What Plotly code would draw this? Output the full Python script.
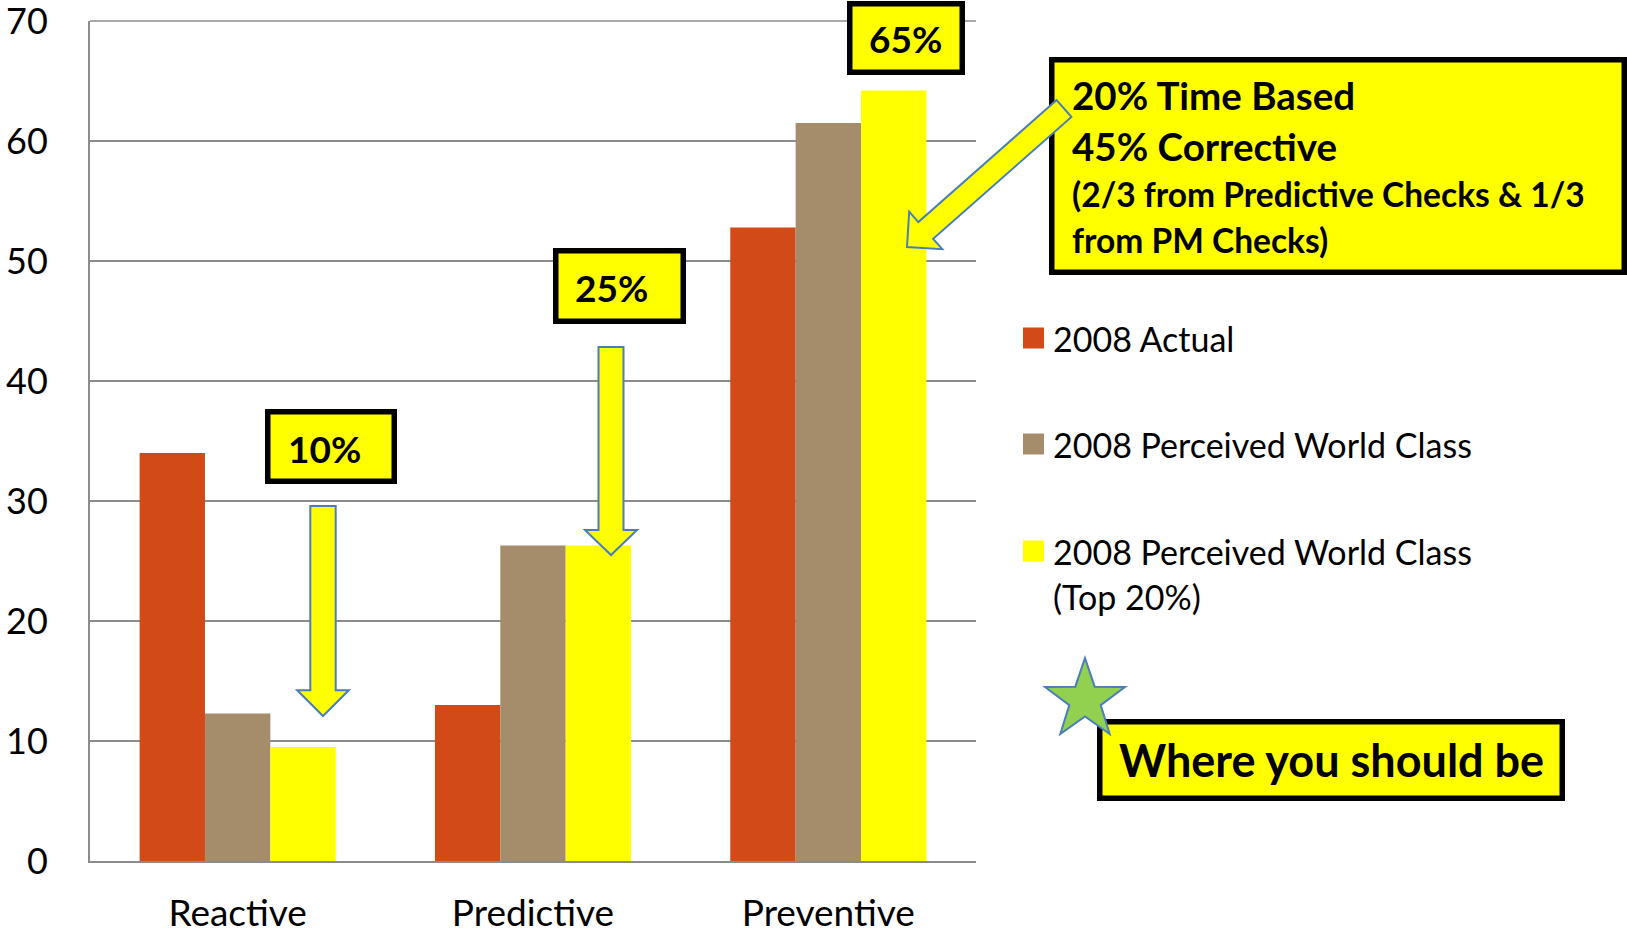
import math
import plotly.graph_objects as go

# ---- data -----------------------------------------------------------------
categories = ["Reactive", "Predictive", "Preventive"]
actual_2008 = [34.0, 13.0, 52.8]
world_class_2008 = [12.3, 26.3, 61.5]
world_class_top20 = [9.5, 26.3, 64.2]

series_names = [
    "2008 Actual",
    "2008 Perceived World Class",
    "2008 Perceived World Class<br>(Top 20%)",
]
series_colors = ["#D24A18", "#A58C6A", "#FFFF00"]

y_ticks = [0, 10, 20, 30, 40, 50, 60, 70]
target_labels = ["10%", "25%", "65%"]
split_lines = [
    "20% Time Based",
    "45% Corrective",
    "(2/3 from Predictive Checks & 1/3",
    "from PM Checks)",
]
callout_text = "Where you should be"

# ---- page geometry ----------------------------------------------------------
W, H = 1627, 937
ML, MR, MT, MB = 90, 651, 21, 76
PW, PH = W - ML - MR, H - MT - MB

FONT = "Lato"
YELLOW = "#FFFF00"
OUTLINE = "#4A7EBB"
GRID = "#8C8C8C"


def px(x, y):
    """Convert page pixel position to paper coordinates."""
    return (x - ML) / PW, (H - MB - y) / PH


def path_from(points):
    pts = [px(x, y) for x, y in points]
    return "M " + " L ".join(f"{a:.5f},{b:.5f}" for a, b in pts) + " Z"


def block_arrow(tail, tip, shaft_half, head_half, head_len):
    dx, dy = tip[0] - tail[0], tip[1] - tail[1]
    ln = math.hypot(dx, dy)
    ux, uy = dx / ln, dy / ln
    nx, ny = -uy, ux
    bx, by = tip[0] - ux * head_len, tip[1] - uy * head_len
    pts = [
        (tail[0] + nx * shaft_half, tail[1] + ny * shaft_half),
        (bx + nx * shaft_half, by + ny * shaft_half),
        (bx + nx * head_half, by + ny * head_half),
        tip,
        (bx - nx * head_half, by - ny * head_half),
        (bx - nx * shaft_half, by - ny * shaft_half),
        (tail[0] - nx * shaft_half, tail[1] - ny * shaft_half),
    ]
    return path_from(pts)


def star(cx, cy, r_out, r_in):
    pts = []
    for k in range(10):
        ang = math.radians(90 + 36 * k)
        r = r_out if k % 2 == 0 else r_in
        pts.append((cx + r * math.cos(ang), cy - r * math.sin(ang)))
    return path_from(pts)


def box(x0, y0, x1, y1, lw=5.5):
    # outer edges given; stroke is centred on the path
    h = lw / 2
    a0, b0 = px(x0 + h, y1 - h)
    a1, b1 = px(x1 - h, y0 + h)
    return dict(type="rect", xref="paper", yref="paper",
                x0=a0, y0=b0, x1=a1, y1=b1,
                fillcolor=YELLOW, line=dict(color="black", width=lw),
                layer="above")


def text(x, y, s, size, bold=True, xanchor="center"):
    a, b = px(x, y)
    return dict(xref="paper", yref="paper", x=a, y=b, text=s,
                showarrow=False, xanchor=xanchor, yanchor="middle",
                font=dict(family=FONT, size=size, color="black",
                          weight="bold" if bold else "normal"))


# ---- bars -------------------------------------------------------------------
fig = go.Figure()
for name, vals, col in zip(series_names, [actual_2008, world_class_2008, world_class_top20], series_colors):
    fig.add_trace(go.Bar(x=categories, y=vals, name=name.replace("<br>", " "),
                         marker=dict(color=col, line=dict(width=0)),
                         showlegend=False))

shapes = []
annotations = []

# top gridline (the axis range ends exactly on it)
shapes.append(dict(type="line", xref="paper", yref="paper", x0=0, x1=1, y0=1, y1=1,
                   line=dict(color=GRID, width=1.5), layer="below"))

# ---- legend (drawn beside the plot) ----------------------------------------
legend_rows = [338, 444, 551]
for name, col, yc in zip(series_names, series_colors, legend_rows):
    a0, b0 = px(1023, yc + 10.5)
    a1, b1 = px(1044, yc - 10.5)
    shapes.append(dict(type="rect", xref="paper", yref="paper",
                       x0=a0, y0=b0, x1=a1, y1=b1,
                       fillcolor=col, line=dict(width=0)))
    for i, line in enumerate(name.split("<br>")):
        annotations.append(text(1051, yc + i * 45, line, 34, bold=False, xanchor="left"))

# ---- target boxes and arrows ------------------------------------------------
shapes.append(box(265, 409, 397, 484))
annotations.append(text(324, 448, target_labels[0], 37))
shapes.append(dict(type="path", xref="paper", yref="paper",
                   path=block_arrow((323, 506), (323, 716), 12.7, 25.8, 25.7),
                   fillcolor=YELLOW, line=dict(color=OUTLINE, width=2), layer="above"))

shapes.append(box(553, 248, 686, 324))
annotations.append(text(611, 287, target_labels[1], 37))
shapes.append(dict(type="path", xref="paper", yref="paper",
                   path=block_arrow((611, 347), (611, 555), 12.5, 26, 25),
                   fillcolor=YELLOW, line=dict(color=OUTLINE, width=2), layer="above"))

shapes.append(box(847, 1, 965, 75))
annotations.append(text(905, 38, target_labels[2], 37))

shapes.append(box(1049, 57, 1627, 275))
line_y = [95, 146, 194, 240]
line_size = [38.5, 38.5, 33.5, 33.5]
for s, yc, fs in zip(split_lines, line_y, line_size):
    annotations.append(text(1070, yc, s, fs, xanchor="left"))
shapes.append(dict(type="path", xref="paper", yref="paper",
                   path=block_arrow((1064, 108.5), (907, 247), 11.2, 25, 25),
                   fillcolor=YELLOW, line=dict(color=OUTLINE, width=2), layer="above"))

shapes.append(box(1097, 719, 1565, 801))
annotations.append(text(1331, 760, callout_text, 45))
shapes.append(dict(type="path", xref="paper", yref="paper",
                   path=star(1085, 700, 42, 16.5),
                   fillcolor="#92D050", line=dict(color=OUTLINE, width=2), layer="above"))

# ---- layout -----------------------------------------------------------------
fig.update_layout(
    width=W, height=H,
    margin=dict(l=ML, r=MR, t=MT, b=MB, pad=0, autoexpand=False),
    paper_bgcolor="white", plot_bgcolor="white",
    barmode="group", bargap=0.336, bargroupgap=0,
    font=dict(family=FONT, color="black"),
    shapes=shapes, annotations=annotations,
    xaxis=dict(showline=True, linecolor=GRID, linewidth=2,
               ticks="", showgrid=False, automargin=False,
               tickfont=dict(family=FONT, size=37, color="black"),
               ticklabelstandoff=19, ticklabeloverflow="allow"),
    yaxis=dict(range=[0, 70], tickvals=y_ticks, showline=True, linecolor=GRID,
               linewidth=2, showgrid=True, gridcolor=GRID, gridwidth=1.5,
               zeroline=False, ticks="", automargin=False,
               tickfont=dict(family=FONT, size=36, color="black"),
               ticklabelstandoff=33, ticklabeloverflow="allow"),
)

fig.write_html("out.html")
